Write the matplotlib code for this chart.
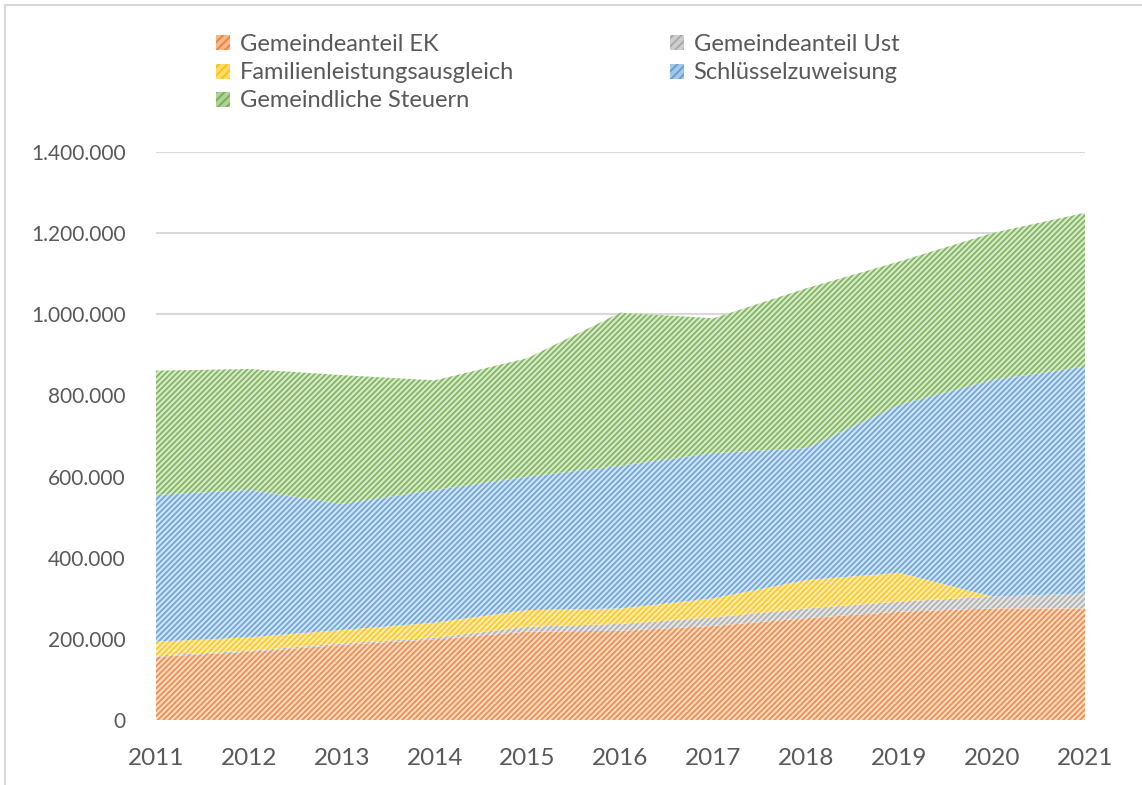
import matplotlib
matplotlib.use("Agg")
import matplotlib.pyplot as plt
from matplotlib.patches import Patch
from matplotlib.lines import Line2D
from matplotlib.ticker import FuncFormatter
import numpy as np

years = [2011, 2012, 2013, 2014, 2015, 2016, 2017, 2018, 2019, 2020, 2021]
gemeindeanteil_ek = [156000, 168000, 185000, 199000, 218000, 220000, 232000, 251000, 267000, 275000, 275000]
gemeindeanteil_ust = [3000, 3000, 4000, 4000, 12000, 17000, 21000, 24000, 25000, 29000, 37000]
familienleistungsausgleich = [34000, 33000, 33000, 37000, 41000, 38000, 47000, 70000, 71000, 0, 0]
schluesselzuweisung = [362000, 363000, 311000, 327000, 329000, 352000, 358000, 325000, 414000, 534000, 559000]
gemeindliche_steuern = [306000, 298000, 317000, 270000, 292000, 377000, 332000, 394000, 353000, 362000, 379000]

labels = ["Gemeindeanteil EK", "Gemeindeanteil Ust", "Familienleistungsausgleich",
          "Schlüsselzuweisung", "Gemeindliche Steuern"]
series = [gemeindeanteil_ek, gemeindeanteil_ust, familienleistungsausgleich,
          schluesselzuweisung, gemeindliche_steuern]
colors = ["#ED7D31", "#A5A5A5", "#FFC000", "#5B9BD5", "#70AD47"]

def lighten(c, f):
    r, g, b = matplotlib.colors.to_rgb(c)
    return (1 - f + f * r, 1 - f + f * g, 1 - f + f * b)

plt.rcParams['font.family'] = ['Lato', 'DejaVu Sans']
plt.rcParams['hatch.linewidth'] = 1.4

fig = plt.figure(figsize=(11.42, 7.85), dpi=100)
ax = fig.add_axes([156/1142, 1 - 720/785, (1085-156)/1142, (720-152)/785])

polys = ax.stackplot(years, *series, labels=labels, linewidth=0)
for p, c in zip(polys, colors):
    p.set_facecolor(lighten(c, 0.25))
    p.set_edgecolor(lighten(c, 0.85))
    p.set_hatch("//////")
    p.set_linewidth(0)

ax.set_xlim(2011, 2021)
ax.set_ylim(0, 1400000)
ax.set_yticks(np.arange(0, 1400001, 200000))
ax.yaxis.set_major_formatter(FuncFormatter(lambda v, p: f"{int(v):,}".replace(",", ".")))
ax.set_xticks(years)
ax.grid(axis='y', color='#D9D9D9', linewidth=1.5)
ax.set_axisbelow(True)
for s in ax.spines.values():
    s.set_visible(False)
ax.tick_params(axis='both', length=0, colors='#595959')
ax.tick_params(axis='y', labelsize=15, pad=22)
ax.tick_params(axis='x', labelsize=17.5, pad=20)

handles = []
order = [0, 2, 4, 1, 3]
for i in order:
    handles.append(Patch(facecolor=lighten(colors[i], 0.55), edgecolor=lighten(colors[i], 0.95),
                         hatch="////", linewidth=0, label=labels[i]))
leg = fig.legend(handles=handles, ncol=2, loc='upper left', bbox_to_anchor=(195/1142, 1 - 13/785),
                 frameon=False, fontsize=17, handlelength=0.6, handleheight=0.6,
                 handletextpad=0.4, labelspacing=0.3, columnspacing=6.6)
for t in leg.get_texts():
    t.set_color('#595959')

# chart frame (left and top edges)
fig.add_artist(Line2D([5/1142, 5/1142], [0, 1 - 5/785], color='#D9D9D9', linewidth=1.5))
fig.add_artist(Line2D([5/1142, 1], [1 - 5/785, 1 - 5/785], color='#D9D9D9', linewidth=1.5))

fig.savefig("out.png", dpi=100)
